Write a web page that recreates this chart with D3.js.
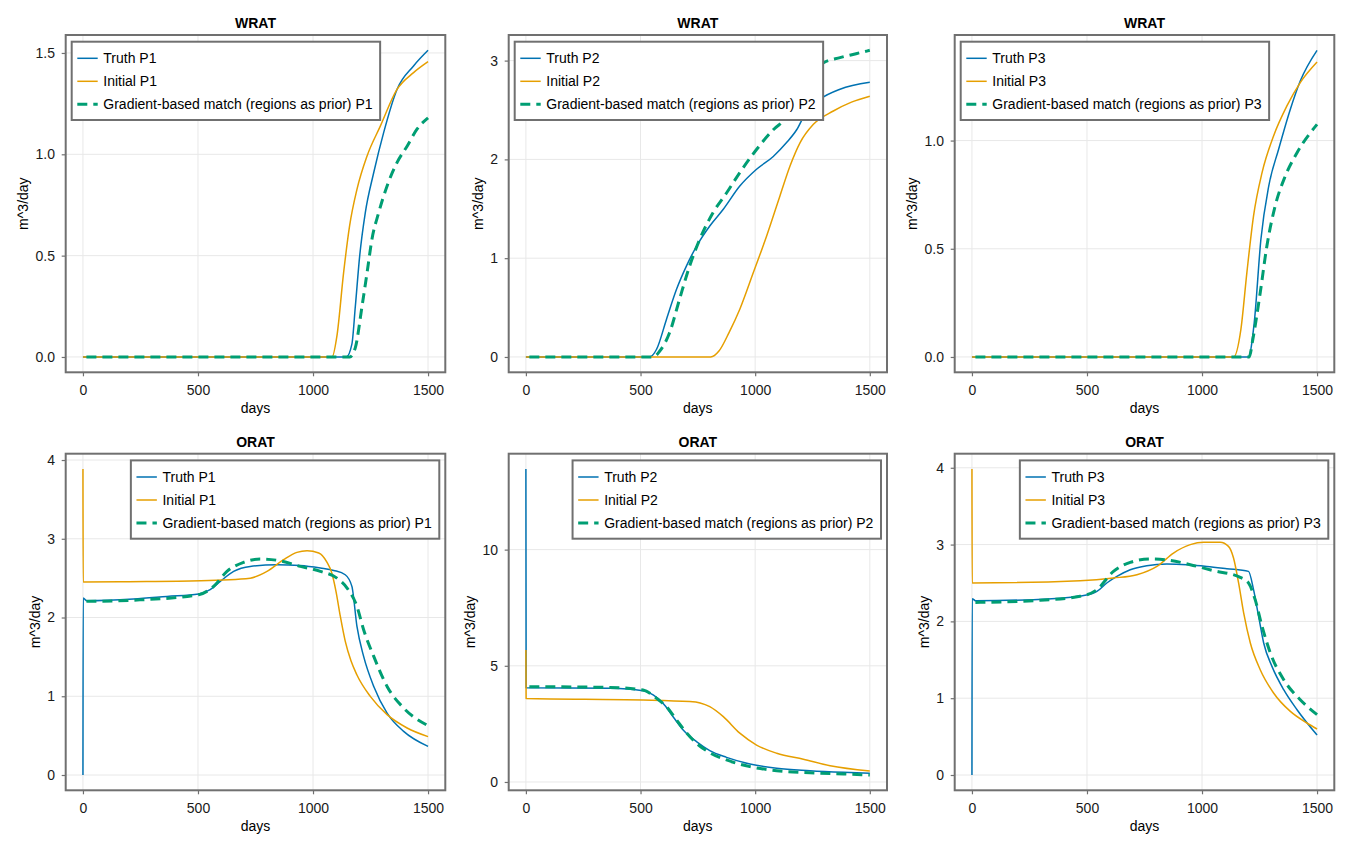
<!DOCTYPE html>
<html>
<head>
<meta charset="utf-8">
<script src="https://cdn.jsdelivr.net/npm/d3@7"></script>
<style>
  body { margin: 0; background: #fff; }
  text { font-family: "Liberation Sans", Arial, sans-serif; }
</style>
</head>
<body>
<script>
// Series, as [day, value] pairs
const wratTruthP1 = [[0,0],[1145,0],[1169,0.063],[1184,0.25],[1203,0.50],[1227,0.71],[1264,0.91],[1307,1.107],[1365,1.32],[1437,1.436],[1500,1.513]];
const wratInitP1  = [[0,0],[1083,0],[1104,0.104],[1133,0.416],[1159,0.647],[1191,0.827],[1235,0.992],[1293,1.14],[1365,1.32],[1437,1.403],[1500,1.457]];
const wratMatchP1 = [[15,0],[1160,0],[1184,0.046],[1213,0.25],[1235,0.416],[1256,0.58],[1285,0.71],[1322,0.844],[1365,0.959],[1409,1.04],[1452,1.124],[1500,1.18]];

const wratTruthP2 = [[0,0],[540,0],[570,0.078],[613,0.38],[657,0.685],[700,0.92],[744,1.12],[802,1.326],[861,1.495],[933,1.73],[1006,1.90],[1079,2.03],[1137,2.17],[1181,2.30],[1225,2.49],[1283,2.61],[1370,2.71],[1500,2.78]];
const wratInitP2  = [[0,0],[806,0],[842,0.06],[886,0.247],[933,0.483],[992,0.854],[1050,1.225],[1108,1.63],[1152,1.933],[1196,2.17],[1254,2.355],[1341,2.49],[1420,2.58],[1500,2.64]];
const wratMatchP2 = [[15,0],[555,0],[584,0.06],[627,0.247],[670,0.584],[714,0.92],[758,1.19],[816,1.46],[875,1.66],[933,1.866],[1006,2.10],[1079,2.30],[1137,2.42],[1200,2.66],[1250,2.85],[1300,2.98],[1370,3.03],[1440,3.07],[1500,3.104]];

const wratTruthP3 = [[0,0],[1202,0],[1227,0.159],[1256,0.544],[1290,0.79],[1333,0.96],[1384,1.145],[1427,1.275],[1500,1.417]];
const wratInitP3  = [[0,0],[1137,0],[1169,0.128],[1195,0.39],[1224,0.652],[1261,0.852],[1311,1.021],[1369,1.16],[1427,1.268],[1500,1.363]];
const wratMatchP3 = [[15,0],[1205,0],[1221,0.082],[1253,0.297],[1282,0.513],[1318,0.698],[1362,0.836],[1413,0.944],[1500,1.075]];

const oratTruthP1 = [[0,0],[1,2.247],[17,2.213],[220,2.235],[365,2.268],[503,2.30],[553,2.353],[597,2.459],[655,2.586],[727,2.649],[843,2.67],[943,2.66],[1032,2.628],[1090,2.598],[1140,2.543],[1169,2.395],[1191,1.887],[1220,1.506],[1264,1.125],[1322,0.787],[1394,0.554],[1500,0.363]];
const oratInitP1  = [[0,3.886],[1,2.45],[200,2.455],[511,2.467],[727,2.50],[800,2.586],[872,2.734],[930,2.827],[974,2.848],[1025,2.819],[1061,2.70],[1080,2.58],[1100,2.33],[1119,2.01],[1140,1.70],[1165,1.45],[1191,1.27],[1249,0.998],[1322,0.766],[1409,0.597],[1500,0.487]];
const oratMatchP1 = [[15,2.205],[220,2.22],[503,2.29],[568,2.395],[626,2.586],[698,2.70],[771,2.743],[858,2.72],[945,2.649],[1032,2.586],[1104,2.50],[1148,2.374],[1191,2.14],[1220,1.845],[1264,1.506],[1322,1.125],[1394,0.85],[1500,0.626]];

const oratTruthP2 = [[0,13.47],[1,4.06],[366,4.03],[511,3.93],[555,3.745],[598,3.39],[642,2.81],[686,2.24],[744,1.735],[802,1.348],[875,1.06],[977,0.775],[1094,0.588],[1239,0.487],[1385,0.416],[1500,0.373]];
const oratInitP2  = [[0,5.68],[1,3.59],[511,3.53],[715,3.46],[760,3.40],[802,3.24],[861,2.81],[933,2.10],[1006,1.59],[1094,1.235],[1210,0.977],[1327,0.70],[1500,0.473]];
const oratMatchP2 = [[15,4.10],[366,4.07],[511,3.96],[570,3.60],[613,3.24],[657,2.67],[700,2.12],[744,1.666],[802,1.26],[875,0.947],[977,0.66],[1094,0.487],[1239,0.40],[1385,0.344],[1500,0.30]];

const oratTruthP3 = [[0,0],[1,2.296],[15,2.27],[267,2.283],[470,2.33],[520,2.36],[543,2.39],[586,2.50],[630,2.586],[688,2.673],[760,2.725],[847,2.747],[934,2.738],[1021,2.716],[1108,2.686],[1202,2.651],[1224,2.413],[1246,2.065],[1268,1.719],[1304,1.414],[1355,1.111],[1413,0.85],[1500,0.52]];
const oratInitP3  = [[0,3.984],[1,2.50],[470,2.53],[615,2.565],[717,2.608],[804,2.716],[876,2.89],[949,2.999],[1007,3.03],[1079,3.03],[1115,2.977],[1137,2.825],[1159,2.50],[1181,2.11],[1210,1.719],[1253,1.371],[1311,1.068],[1384,0.828],[1456,0.677],[1500,0.599]];
const oratMatchP3 = [[15,2.247],[267,2.27],[470,2.326],[543,2.413],[615,2.651],[688,2.768],[775,2.812],[862,2.795],[949,2.738],[1050,2.66],[1166,2.573],[1202,2.50],[1231,2.283],[1261,1.935],[1297,1.589],[1355,1.241],[1427,0.98],[1500,0.785]];

// Titles, wells and tick labels
const titles = ["WRAT", "ORAT"];
const wells = ["P1", "P2", "P3"];
const xTickLabels = ["0", "500", "1000", "1500"];
const yTickLabels = [
  [["0.0","0.5","1.0","1.5"], ["0","1","2","3"], ["0.0","0.5","1.0"]],
  [["0","1","2","3","4"], ["0","5","10"], ["0","1","2","3","4"]]
];
const seriesData = [
  [[wratTruthP1, wratInitP1, wratMatchP1], [wratTruthP2, wratInitP2, wratMatchP2], [wratTruthP3, wratInitP3, wratMatchP3]],
  [[oratTruthP1, oratInitP1, oratMatchP1], [oratTruthP2, oratInitP2, oratMatchP2], [oratTruthP3, oratInitP3, oratMatchP3]]
];
const seriesNames = ["Truth", "Initial", "Gradient-based match (regions as prior)"];

// Layout of the six axes frames
const colLeft = [65.7, 508.7, 954.7];
const colRight = [445.3, 887, 1334.3];
const rowTop = [35, 453.7];
const rowBottom = [372.3, 790.3];

const colors = ["#0072B2", "#E69F00", "#009E73"];
const widths = [1.5, 1.5, 3];
const dashes = [null, null, "10,6"];
const frameColor = "#707070";
const gridColor = "#e8e8e8";

const svg = d3.select("body").append("svg")
  .attr("width", 1350)
  .attr("height", 850);

function padded(ext) {
  const r = ext[1] - ext[0];
  return [ext[0] - 0.05 * r, ext[1] + 0.05 * r];
}

seriesData.forEach((row, ri) => {
  row.forEach((series, ci) => {
    const L = colLeft[ci], R = colRight[ci], T = rowTop[ri], B = rowBottom[ri];
    const all = series.flat();
    const x = d3.scaleLinear().domain(padded(d3.extent(all, d => d[0]))).range([L, R]);
    const y = d3.scaleLinear().domain(padded(d3.extent(all, d => d[1]))).range([B, T]);
    const yLabels = yTickLabels[ri][ci];

    const g = svg.append("g");

    // Grid lines
    g.selectAll("line.gx")
      .data(xTickLabels.map(Number))
      .enter().append("line")
      .attr("x1", d => x(d)).attr("x2", d => x(d))
      .attr("y1", T).attr("y2", B)
      .attr("stroke", gridColor).attr("stroke-width", 1);
    g.selectAll("line.gy")
      .data(yLabels.map(Number))
      .enter().append("line")
      .attr("y1", d => y(d)).attr("y2", d => y(d))
      .attr("x1", L).attr("x2", R)
      .attr("stroke", gridColor).attr("stroke-width", 1);

    // Clip for the curves
    const clipId = `clip-${ri}-${ci}`;
    svg.append("clipPath").attr("id", clipId)
      .append("rect").attr("x", L).attr("y", T).attr("width", R - L).attr("height", B - T);

    const line = d3.line()
      .x(d => x(d[0]))
      .y(d => y(d[1]))
      .curve(d3.curveMonotoneX);

    series.forEach((s, si) => {
      g.append("path")
        .attr("clip-path", `url(#${clipId})`)
        .attr("fill", "none")
        .attr("stroke", colors[si])
        .attr("stroke-width", widths[si])
        .attr("stroke-dasharray", dashes[si])
        .attr("stroke-linejoin", "round")
        .attr("d", line(s));
    });

    // Axes
    const xAxis = g.append("g")
      .attr("transform", `translate(0,${B})`)
      .call(d3.axisBottom(x)
        .tickValues(xTickLabels.map(Number))
        .tickFormat((d, i) => xTickLabels[i])
        .tickSize(4).tickSizeOuter(0).tickPadding(8.8));
    const yAxis = g.append("g")
      .attr("transform", `translate(${L},0)`)
      .call(d3.axisLeft(y)
        .tickValues(yLabels.map(Number))
        .tickFormat((d, i) => yLabels[i])
        .tickSize(4).tickSizeOuter(0).tickPadding(6.7));
    [xAxis, yAxis].forEach(a => {
      a.select(".domain").remove();
      a.selectAll(".tick line").attr("stroke", frameColor).attr("stroke-width", 1.2);
      a.selectAll(".tick text")
        .attr("fill", "#1a1a1a")
        .style("font-size", "14px")
        .style("font-family", "'Liberation Sans', Arial, sans-serif");
    });

    // Frame
    g.append("rect")
      .attr("x", L).attr("y", T).attr("width", R - L).attr("height", B - T)
      .attr("fill", "none").attr("stroke", frameColor).attr("stroke-width", 2);

    // Title and axis labels
    g.append("text")
      .attr("x", (L + R) / 2).attr("y", T - 7)
      .attr("text-anchor", "middle")
      .style("font-size", "14px").style("font-weight", "bold")
      .text(titles[ri]);

    g.append("text")
      .attr("x", (L + R) / 2).attr("y", B + 41)
      .attr("text-anchor", "middle")
      .style("font-size", "14px")
      .text("days");

    let tickW = 0;
    yAxis.selectAll(".tick text").each(function() { tickW = Math.max(tickW, this.getBBox().width); });
    const yl = L - 4 - 6.7 - tickW - 7;
    g.append("text")
      .attr("transform", `translate(${yl},${(T + B) / 2}) rotate(-90)`)
      .attr("text-anchor", "middle")
      .style("font-size", "14px")
      .text("m^3/day");

    // Legend
    const leg = g.append("g");
    const box = leg.append("rect")
      .attr("fill", "#fff").attr("stroke", frameColor).attr("stroke-width", 2);
    let textW = 0;
    seriesNames.forEach((name, si) => {
      const item = leg.append("g").attr("transform", `translate(0,${16.6 + si * 23})`);
      item.append("line")
        .attr("x1", 5.6).attr("x2", 26)
        .attr("stroke", colors[si])
        .attr("stroke-width", widths[si])
        .attr("stroke-dasharray", dashes[si]);
      const t = item.append("text")
        .attr("x", 31.6).attr("dy", "0.35em")
        .style("font-size", "14px")
        .text(`${name} ${wells[ci]}`);
      textW = Math.max(textW, t.node().getComputedTextLength());
    });
    const boxW = 31.6 + textW + 7.6;
    const boxH = 78.3;
    box.attr("width", boxW).attr("height", boxH);
    const lx = ri === 0 ? L + 6 : R - 6 - boxW;
    leg.attr("transform", `translate(${lx},${T + 6.7})`);
  });
});
</script>
</body>
</html>
